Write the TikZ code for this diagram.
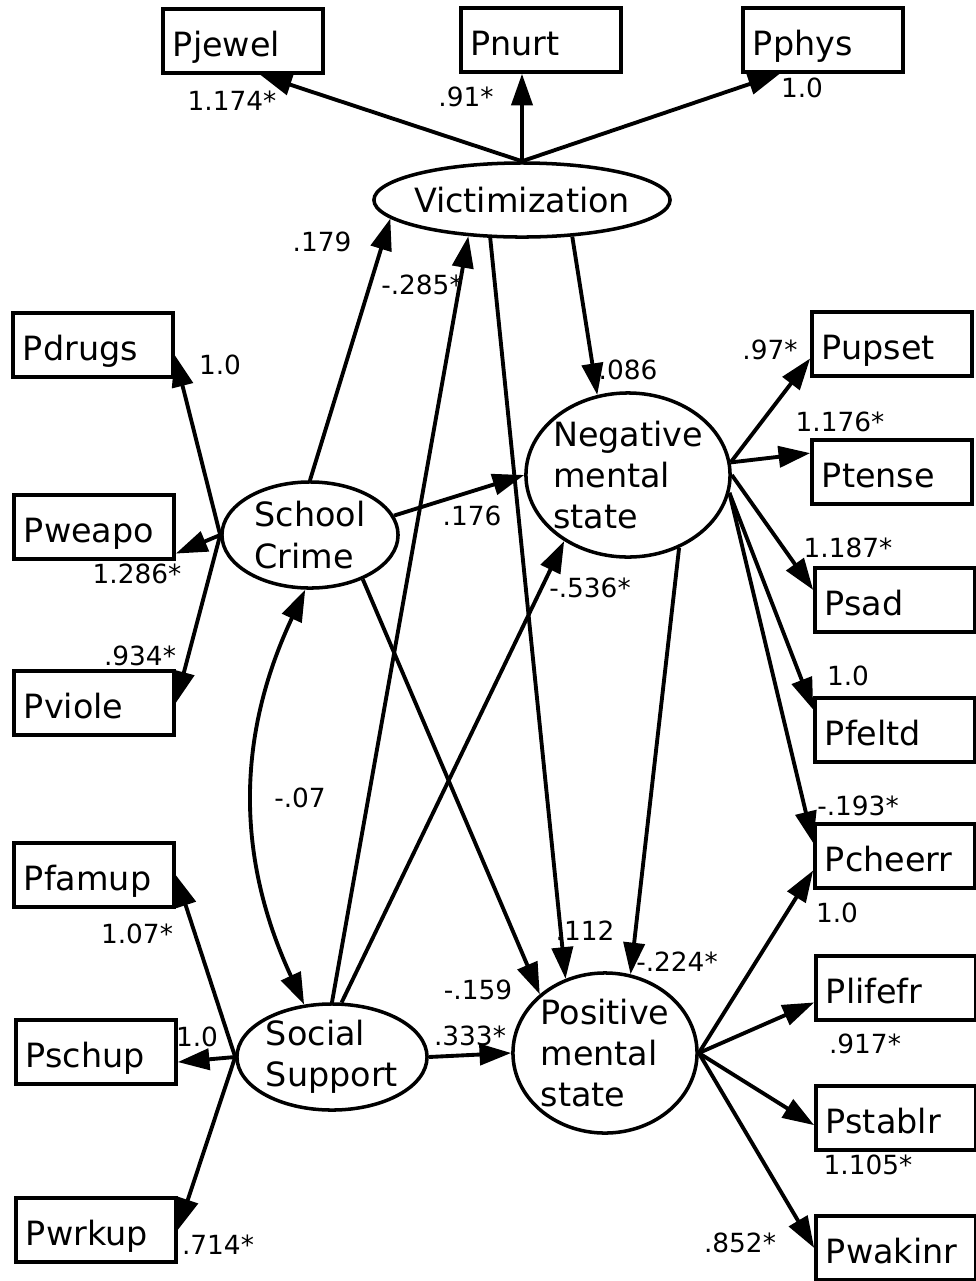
\documentclass[tikz,border=0pt]{standalone}
\usepackage{fontspec}
\setmainfont{DejaVu Sans}
\usepackage{tikz}
\usetikzlibrary{arrows.meta,shapes}
\newcommand{\lwidth}{1.1pt}
\newcommand{\boxw}{1.6cm}
\newcommand{\boxh}{0.64cm}

\begin{document}
\begin{tikzpicture}
        \begin{scope}[x=0.01cm,y=-0.01cm]
            %\draw[help lines] (0,0) grid[step=50] (975,1281);
            \useasboundingbox (0,0) rectangle (975,1281);
            \tikzset{
                manifest/.style = {draw, line width=1pt, rectangle, minimum width=\boxw, minimum height=\boxh,
                    text width=1.4cm, text height=11pt, text depth=2pt, align=left, inner xsep=0.1cm, inner ysep=0pt,
                    font=\fontsize{9.5}{11}\selectfont},
                latent/.style = {draw, line width=1pt, ellipse, inner sep=0pt, align=left,
                    font=\fontsize{9.5}{11.7}\selectfont},
                effect/.style = {line width=\lwidth, ->},
                corr/.style = {line width=\lwidth, <->},
                coef/.style = {inner sep=0pt, font=\fontsize{7.5}{9}\selectfont},
                >={Triangle[length=9pt,width=6pt]}
            }
            % latent variables
            \node[latent, minimum width=2.96cm, minimum height=0.74cm, inner xsep=-3pt] (vic) at (522,200) {Victimization};
            \node[latent, minimum width=1.76cm, minimum height=1.06cm] (crime) at (310,535) {School\\Crime};
            \node[latent, minimum width=1.9cm, minimum height=1.06cm] (support) at (332,1057) {Social\\Support};
            \node[latent, minimum width=2.04cm, minimum height=1.64cm, inner xsep=-1pt] (neg) at (628,475) {Negative\\mental\\state};
            \node[latent, minimum width=1.84cm, minimum height=1.6cm] (pos) at (605,1053) {Positive\\mental\\state};
            % indicators
            \node[manifest] (pjewel) at (243,41) {Pjewel};
            \node[manifest] (pnurt) at (541,40) {Pnurt};
            \node[manifest] (pphys) at (823,40) {Pphys};
            \node[manifest] (pdrugs) at (93,345) {Pdrugs};
            \node[manifest] (pweapo) at (94,527) {Pweapo};
            \node[manifest] (pviole) at (94,703) {Pviole};
            \node[manifest] (pfamup) at (94,875) {Pfamup};
            \node[manifest] (pschup) at (96,1052) {Pschup};
            \node[manifest] (pwrkup) at (96,1230) {Pwrkup};
            \node[manifest] (pupset) at (892,344) {Pupset};
            \node[manifest] (ptense) at (892,472) {Ptense};
            \node[manifest] (psad) at (895,600) {Psad};
            \node[manifest] (pfeltd) at (895,730) {Pfeltd};
            \node[manifest] (pcheerr) at (895,856) {Pcheerr};
            \node[manifest] (plifefr) at (896,988) {Plifefr};
            \node[manifest] (pstablr) at (896,1118) {Pstablr};
            \node[manifest] (pwakinr) at (896,1248) {Pwakinr};
            % measurement paths
            \draw[effect] (vic.north) -- (pjewel.-63);
            \draw[effect] (vic.north) -- (vic.north |- pnurt.south);
            \draw[effect] (vic.north) -- (pphys.-142);
            \draw[effect] (crime.west) -- (pdrugs.-7);
            \draw[effect] (crime.west) -- (pweapo.-18);
            \draw[effect] (crime.west) -- (pviole.east);
            \draw[effect] (support.west) -- (pfamup.east);
            \draw[effect] (support.west) -- (pschup.-7);
            \draw[effect] (support.west) -- (pwrkup.east);
            \draw[effect] (neg.7) -- (pupset.190);
            \draw[effect] (neg.7) -- (ptense.167);
            \draw[effect] (neg.east) -- (psad.173);
            \draw[effect] (neg.-10) -- (pfeltd.166);
            \draw[effect] (neg.-10) -- (pcheerr.171);
            \draw[effect] (pos.east) -- (pcheerr.190);
            \draw[effect] (pos.east) -- (plifefr.190);
            \draw[effect] (pos.east) -- (pstablr.185);
            \draw[effect] (pos.east) -- (pwakinr.west);
            % structural paths
            \draw[effect] (crime.north) -- (vic.-172);
            \draw[effect] (crime.13) -- (neg.west);
            \draw[effect] (crime.-40) -- (pos.138);
            \draw[effect] (support.north) -- (vic.-146);
            \draw[effect] (support.80) -- (neg.-134);
            \draw[effect] (support.east) -- (pos.west);
            \draw[effect] (vic.-36) -- (neg.111);
            \draw[effect] (vic.-130) -- (pos.118);
            \draw[effect] (neg.-55) -- (pos.72);
            \draw[corr] (crime.-95) to[bend right=25] (support.118);
            % coefficients
            \node[coef] (cjewel) at (232,101) {1.174*};
            \node[coef] (cnurt) at (466,97) {.91*};
            \node[coef] (cphys) at (802,88) {1.0};
            \node[coef] (cdrugs) at (220,365) {1.0};
            \node[coef] (cweapo) at (137,574) {1.286*};
            \node[coef] (cviole) at (140,656) {.934*};
            \node[coef] (cfamup) at (137,934) {1.07*};
            \node[coef] (cschup) at (197,1037) {1.0};
            \node[coef] (cwrkup) at (218,1245) {.714*};
            \node[coef] (cupset) at (770,350) {.97*};
            \node[coef] (ctense) at (840,422) {1.176*};
            \node[coef] (csad) at (848,548) {1.187*};
            \node[coef] (cfeltd) at (848,676) {1.0};
            \node[coef] (ccheerneg) at (858,806) {-.193*};
            \node[coef] (ccheerpos) at (837,913) {1.0};
            \node[coef] (clifefr) at (865,1044) {.917*};
            \node[coef] (cstablr) at (868,1165) {1.105*};
            \node[coef] (cwakinr) at (740,1243) {.852*};
            \node[coef] (ccrimevic) at (322,242) {.179};
            \node[coef] (csuppvic) at (422,285) {-.285*};
            \node[coef] (cvicneg) at (628,370) {.086};
            \node[coef] (ccrimeneg) at (472,516) {.176};
            \node[coef] (csuppneg) at (590,588) {-.536*};
            \node[coef] (ccorr) at (300,798) {-.07};
            \node[coef] (ccrimepos) at (478,990) {-.159};
            \node[coef] (csupppos) at (470,1036) {.333*};
            \node[coef] (cvicpos) at (585,931) {.112};
            \node[coef] (cnegpos) at (677,962) {-.224*};
        \end{scope}
    \end{tikzpicture}
\end{document}
